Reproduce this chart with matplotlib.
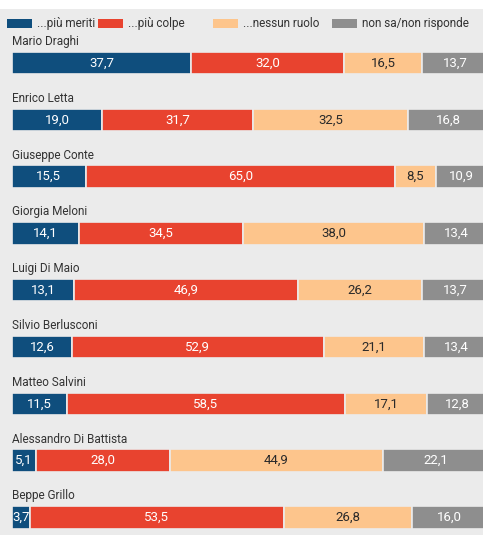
import matplotlib
matplotlib.use('Agg')
import matplotlib.pyplot as plt
from matplotlib.patches import Rectangle

plt.rcParams['font.family'] = ['Roboto', 'DejaVu Sans']

# dati
nomi = ['Mario Draghi', 'Enrico Letta', 'Giuseppe Conte', 'Giorgia Meloni',
        'Luigi Di Maio', 'Silvio Berlusconi', 'Matteo Salvini',
        'Alessandro Di Battista', 'Beppe Grillo']
meriti = [37.7, 19.0, 15.5, 14.1, 13.1, 12.6, 11.5, 5.1, 3.7]
colpe = [32.0, 31.7, 65.0, 34.5, 46.9, 52.9, 58.5, 28.0, 53.5]
nessuno = [16.5, 32.5, 8.5, 38.0, 26.2, 21.1, 17.1, 44.9, 26.8]
non_sa = [13.7, 16.8, 10.9, 13.4, 13.7, 13.4, 12.8, 22.1, 16.0]
serie = ['...più meriti', '...più colpe', '...nessun ruolo', 'non sa/non risponde']

colori = ['#0f4e7d', '#e8432f', '#fdc58c', '#8e8e8e']
testo_col = ['white', 'white', '#2a2a2a', 'white']
sfondo = '#ebebeb'

W, H = 483, 535
fig = plt.figure(figsize=(W / 100, H / 100), dpi=100)
fig.patch.set_facecolor(sfondo)
fig.patches.append(Rectangle((0, 1 - 9 / H), 1, 9 / H, transform=fig.transFigure,
                             facecolor='white', edgecolor='none', zorder=0))

# legenda
leg_x = [7, 98, 213, 332]
for k in range(4):
    fig.patches.append(Rectangle((leg_x[k] / W, 1 - 28 / H), 25 / W, 9 / H,
                                 transform=fig.transFigure, facecolor=colori[k],
                                 edgecolor='none'))
    fig.text((leg_x[k] + 30) / W, 1 - 23.5 / H, serie[k], fontsize=8.5,
             color='#333333', va='center', ha='left')

# barre
passo = 56.8
y0 = 63
ax = fig.add_axes([12 / W, 0, 1 - 12 / W, 1])
ax.set_facecolor(sfondo)
ax.set_xlim(0, (W - 12) / 4.76)
ax.set_ylim((H - y0) / passo, -y0 / passo)
ax.axis('off')

alt = 22.5 / passo
dati = [meriti, colpe, nessuno, non_sa]
for i, nome in enumerate(nomi):
    sinistra = 0
    for k in range(4):
        v = dati[k][i]
        ax.barh(i, v, left=sinistra, height=alt, color=colori[k],
                edgecolor=sfondo, linewidth=1.2)
        ax.text(sinistra + v / 2, i, f'{v:.1f}'.replace('.', ','),
                ha='center', va='center', fontsize=9.5, color=testo_col[k])
        sinistra += v
    ax.text(0, i - alt / 2 - 0.18, nome, ha='left', va='center',
            fontsize=8.5, color='#333333')

fig.savefig('out.png', dpi=100, facecolor=sfondo)
